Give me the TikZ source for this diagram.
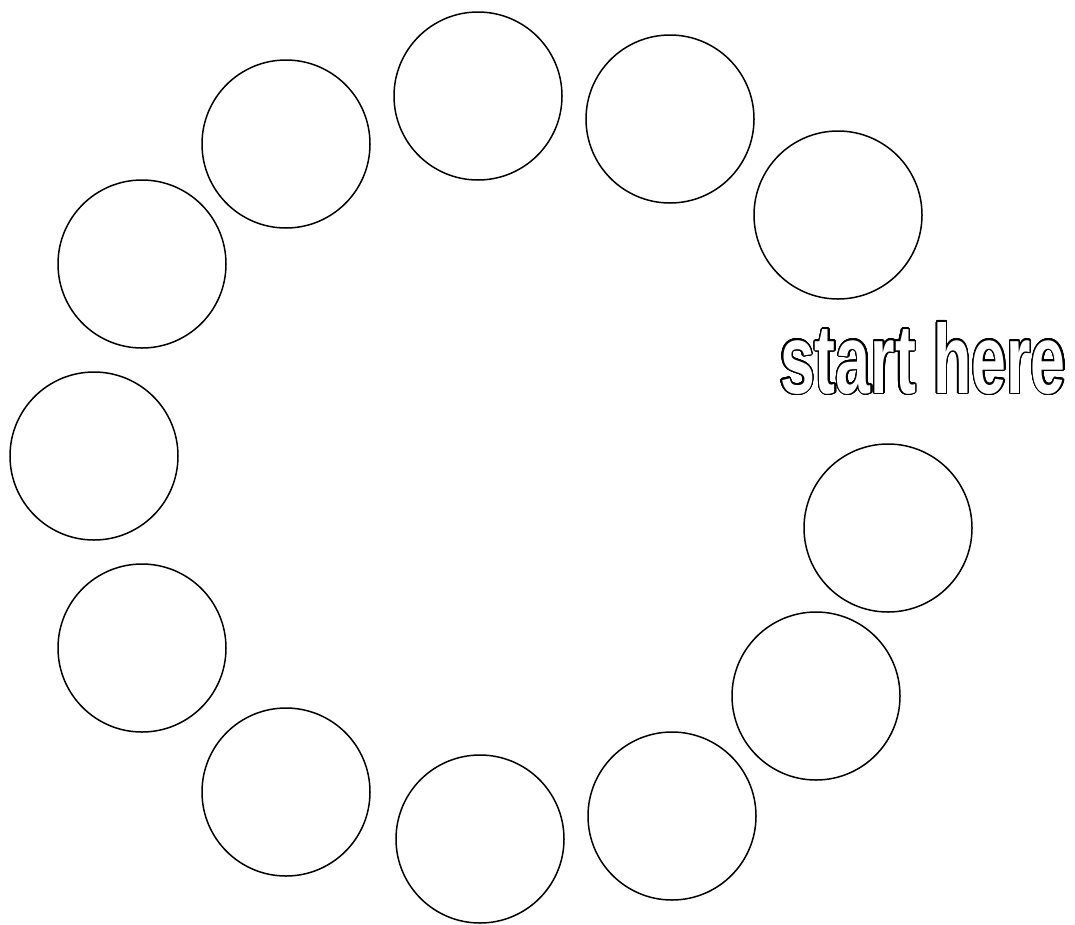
\documentclass[tikz,border=0pt]{standalone}
\usepackage{fontspec}
\usepackage{graphicx}
\usepackage[copies]{contour}
\newfontfamily\arialbold{Liberation Sans}
\contourlength{1.4pt}
\contournumber{32}
\tikzset{
  spot/.style={circle, draw=black, line width=1.5pt, minimum size=168pt, inner sep=0pt, fill=white},
  label/.style={inner sep=0pt, anchor=base}
}
\begin{document}
\begin{tikzpicture}[x=1pt,y=-1pt]
\useasboundingbox (0,0) rectangle (1075,924);
\node[spot] (c1) at (286,144) {};
\node[spot] (c2) at (478,96) {};
\node[spot] (c3) at (670,119) {};
\node[spot] (c4) at (838,215) {};
\node[spot] (c5) at (142,264) {};
\node[spot] (c6) at (94,456) {};
\node[spot] (c7) at (888,528) {};
\node[spot] (c8) at (142,648) {};
\node[spot] (c9) at (816,696) {};
\node[spot] (c10) at (286,792) {};
\node[spot] (c11) at (672,816) {};
\node[spot] (c12) at (480,839) {};
\node[label] (t) at (923,393) {\contour{black}{\scalebox{0.64}[1]{\fontsize{98pt}{98pt}\selectfont\arialbold\bfseries\textcolor{white}{start here}}}};
\end{tikzpicture}
\end{document}
